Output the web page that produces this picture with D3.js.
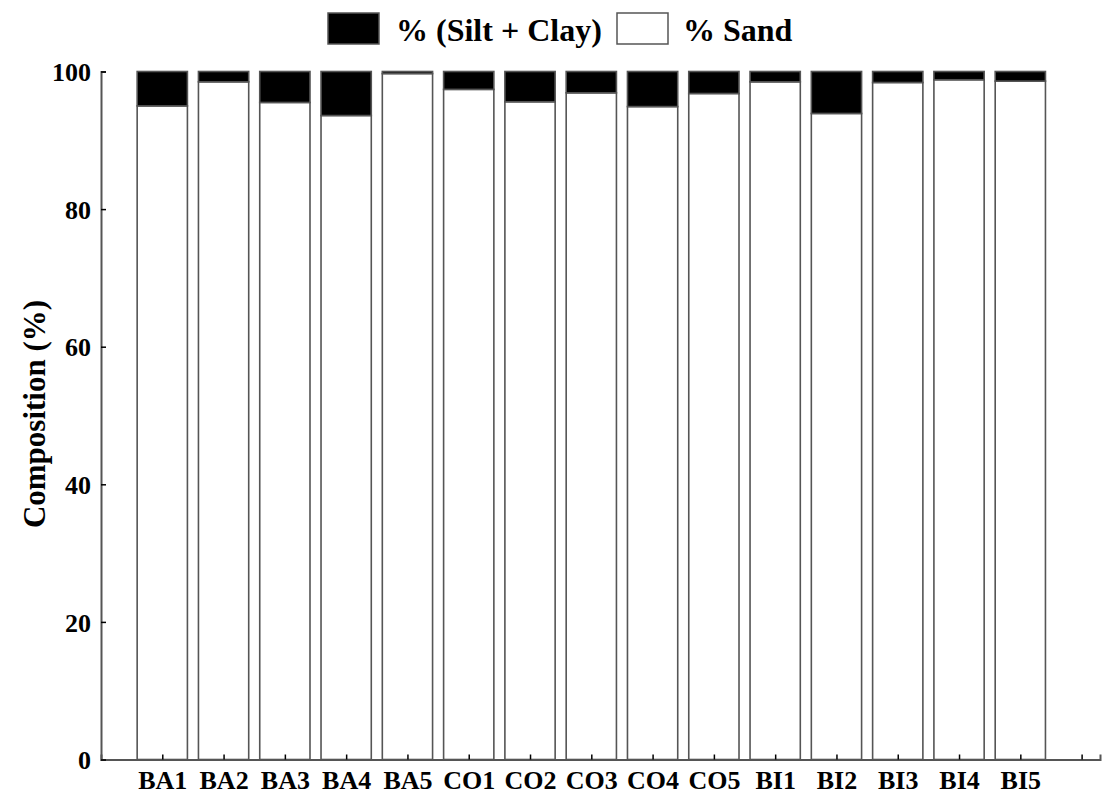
<!DOCTYPE html>
<html>
<head>
<meta charset="utf-8">
<script src="https://cdn.jsdelivr.net/npm/d3@7"></script>
<style>
    body { margin: 0; background: #fff; }
    svg text { font-family: "Liberation Serif", "Times New Roman", Times, "DejaVu Serif", serif !important; font-weight: bold; }
</style>
</head>
<body>
<div id="chart"></div>
<script>
// sample sites and their composition (%)
var sites = ["BA1", "BA2", "BA3", "BA4", "BA5", "CO1", "CO2", "CO3", "CO4", "CO5", "BI1", "BI2", "BI3", "BI4", "BI5"];
var sand = [95.0, 98.5, 95.5, 93.6, 99.7, 97.4, 95.6, 96.9, 94.9, 96.8, 98.5, 93.9, 98.4, 98.8, 98.6];
var siltClay = sand.map(function(d){ return 100 - d; });
var yTicks = [0, 20, 40, 60, 80, 100];

var width = 1103, height = 795;
var margin = { left: 101, right: 3, top: 71, bottom: 35 };

var svg = d3.select("#chart")
    .append("svg")
    .attr("width", width)
    .attr("height", height);

// slot 0 sits on the y axis, sites are in slots 1..15, slot 16 is empty
var x = d3.scaleLinear()
    .domain([0, 16.3])
    .range([margin.left, width - margin.right]);
var y = d3.scaleLinear()
    .domain([0, 100])
    .range([height - margin.bottom - 0.5, margin.top + 0.5]);

var step = x(1) - x(0);
var barW = step * 0.82;

// bars: sand (white) at the bottom, silt + clay (black) on top
var bars = svg.append("g");
sites.forEach(function(s, i){
    var cx = x(i + 1);
    bars.append("rect")
        .attr("x", cx - barW / 2)
        .attr("y", y(sand[i]))
        .attr("width", barW)
        .attr("height", y(0) - y(sand[i]))
        .attr("fill", "#fff")
        .attr("stroke", "#555")
        .attr("stroke-width", 1.6);
    bars.append("rect")
        .attr("x", cx - barW / 2)
        .attr("y", y(100))
        .attr("width", barW)
        .attr("height", y(100 - siltClay[i]) - y(100))
        .attr("fill", "#000")
        .attr("stroke", "#555")
        .attr("stroke-width", 1.6);
});

// axes
var xAxisCall = d3.axisBottom(x)
    .tickValues(d3.range(1, 17))
    .tickSize(-5)
    .tickPadding(11)
    .tickFormat(function(d){ return sites[d - 1] || ""; });
var yAxisCall = d3.axisLeft(y)
    .tickValues(yTicks)
    .tickSize(-5)
    .tickPadding(10);

var xAxis = svg.append("g")
    .attr("transform", "translate(0," + y(0) + ")")
    .call(xAxisCall);
var yAxis = svg.append("g")
    .attr("transform", "translate(" + margin.left + ",0)")
    .call(yAxisCall);

[xAxis, yAxis].forEach(function(a){
    a.attr("font-family", null);
    a.select(".domain").attr("stroke", "#555").attr("stroke-width", 2);
    a.selectAll(".tick line").attr("stroke", "#000").attr("stroke-width", 1.5);
    a.selectAll(".tick text")
        .attr("fill", "#000")
        .attr("font-size", "26px");
});
yAxis.selectAll(".tick text").attr("dy", "0.35em");
xAxis.selectAll(".tick text").attr("dy", "0.71em");

// Y-Axis label
svg.append("text")
    .attr("transform", "rotate(-90)")
    .attr("x", -414)
    .attr("y", 45)
    .attr("font-size", "31px")
    .attr("text-anchor", "middle")
    .text("Composition (%)");

// legend
var legend = [
    { label: "% (Silt + Clay)", fill: "#000", x: 328, tx: 396 },
    { label: "% Sand", fill: "#fff", x: 617, tx: 683 }
];
legend.forEach(function(l){
    svg.append("rect")
        .attr("x", l.x)
        .attr("y", 13)
        .attr("width", 51)
        .attr("height", 31)
        .attr("fill", l.fill)
        .attr("stroke", "#555")
        .attr("stroke-width", 1.5);
    svg.append("text")
        .attr("x", l.tx)
        .attr("y", 41)
        .attr("font-size", "32px")
        .text(l.label);
});
</script>
</body>
</html>
